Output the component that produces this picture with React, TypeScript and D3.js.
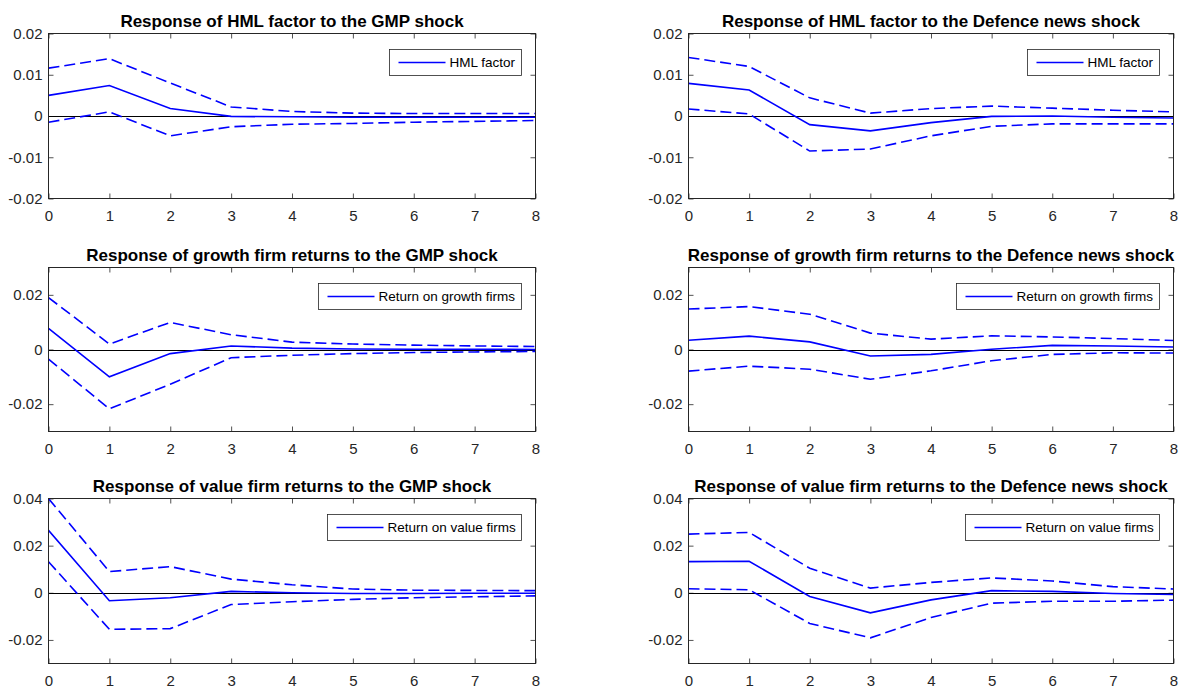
import React, { useEffect, useRef } from 'react';
import * as d3 from 'd3';

// horizons (quarters after the shock)
const horizons = [0, 1, 2, 3, 4, 5, 6, 7, 8];

// HML factor, GMP shock
const hmlGmpIrf = [0.0050, 0.0074, 0.0018, -0.0001, -0.0002, -0.0003, -0.0003, -0.0003, -0.0003];
const hmlGmpUpper = [0.0116, 0.0139, 0.0080, 0.0022, 0.0011, 0.0007, 0.0006, 0.0006, 0.0006];
const hmlGmpLower = [-0.0015, 0.0010, -0.0048, -0.0026, -0.0020, -0.0018, -0.0015, -0.0013, -0.0011];

// HML factor, Defence news shock
const hmlDefIrf = [0.0079, 0.0063, -0.0021, -0.0036, -0.0016, -0.0001, 0.0000, -0.0003, -0.0005];
const hmlDefUpper = [0.0142, 0.0120, 0.0044, 0.0007, 0.0018, 0.0024, 0.0019, 0.0014, 0.0010];
const hmlDefLower = [0.0017, 0.0005, -0.0085, -0.0080, -0.0048, -0.0025, -0.0019, -0.0019, -0.0019];

// growth firms, GMP shock
const growthGmpIrf = [0.0077, -0.0100, -0.0015, 0.0013, 0.0005, 0.0002, 0.0001, 0.0001, 0.0000];
const growthGmpUpper = [0.0190, 0.0020, 0.0099, 0.0054, 0.0027, 0.0020, 0.0016, 0.0013, 0.0011];
const growthGmpLower = [-0.0035, -0.0217, -0.0127, -0.0030, -0.0021, -0.0015, -0.0011, -0.0009, -0.0007];

// growth firms, Defence news shock
const growthDefIrf = [0.0034, 0.0049, 0.0028, -0.0024, -0.0018, 0.0001, 0.0015, 0.0013, 0.0009];
const growthDefUpper = [0.0148, 0.0157, 0.0129, 0.0060, 0.0038, 0.0050, 0.0046, 0.0040, 0.0033];
const growthDefLower = [-0.0079, -0.0061, -0.0072, -0.0109, -0.0078, -0.0041, -0.0018, -0.0012, -0.0013];

// value firms, GMP shock
const valueGmpIrf = [0.0265, -0.0034, -0.0021, 0.0006, 0.0000, -0.0003, -0.0003, -0.0002, -0.0002];
const valueGmpUpper = [0.0400, 0.0090, 0.0111, 0.0058, 0.0034, 0.0016, 0.0011, 0.0010, 0.0009];
const valueGmpLower = [0.0132, -0.0155, -0.0152, -0.0050, -0.0038, -0.0028, -0.0021, -0.0017, -0.0013];

// value firms, Defence news shock
const valueDefIrf = [0.0132, 0.0134, -0.0016, -0.0085, -0.0030, 0.0009, 0.0006, -0.0003, -0.0007];
const valueDefUpper = [0.0249, 0.0256, 0.0104, 0.0020, 0.0044, 0.0063, 0.0050, 0.0026, 0.0016];
const valueDefLower = [0.0017, 0.0013, -0.0130, -0.0191, -0.0105, -0.0044, -0.0036, -0.0036, -0.0031];

const titles = [
    'Response of HML factor to the GMP shock',
    'Response of HML factor to the Defence news shock',
    'Response of growth firm returns to the GMP shock',
    'Response of growth firm returns to the Defence news shock',
    'Response of value firm returns to the GMP shock',
    'Response of value firm returns to the Defence news shock',
];
const legendLabels = ['HML factor', 'Return on growth firms', 'Return on value firms'];

const rowDomains = [[-0.02, 0.02], [-0.03, 0.03], [-0.03, 0.04]];
const rowTicks = [[-0.02, -0.01, 0, 0.01, 0.02], [-0.02, 0, 0.02], [-0.02, 0, 0.02, 0.04]];

const panels = [
    { irf: hmlGmpIrf, upper: hmlGmpUpper, lower: hmlGmpLower },
    { irf: hmlDefIrf, upper: hmlDefUpper, lower: hmlDefLower },
    { irf: growthGmpIrf, upper: growthGmpUpper, lower: growthGmpLower },
    { irf: growthDefIrf, upper: growthDefUpper, lower: growthDefLower },
    { irf: valueGmpIrf, upper: valueGmpUpper, lower: valueGmpLower },
    { irf: valueDefIrf, upper: valueDefUpper, lower: valueDefLower },
];

// plot areas
const columns = [{ left: 48.5, right: 535.5 }, { left: 688.5, right: 1173.5 }];
const rows = [{ top: 33.5, bottom: 198.5 }, { top: 267.5, bottom: 431.5 }, { top: 498.5, bottom: 663.5 }];

const FONT = '"Liberation Sans", Arial, Helvetica, sans-serif';
const BLUE = '#0000ff';
const AXIS = '#262626';

const App = () => {
    const svgRef = useRef<SVGSVGElement>(null);

    useEffect(() => {
        const svg = d3.select(svgRef.current);
        svg.selectAll('*').remove();

        panels.forEach((p, i) => {
            const col = i % 2;
            const row = Math.floor(i / 2);
            const { left, right } = columns[col];
            const { top, bottom } = rows[row];

            const x = d3.scaleLinear().domain([0, 8]).range([left, right]);
            const y = d3.scaleLinear().domain(rowDomains[row]).range([bottom, top]);

            const g = svg.append('g');

            const clipId = `clip-${i}`;
            g.append('clipPath').attr('id', clipId)
                .append('rect')
                .attr('x', left).attr('y', top)
                .attr('width', right - left).attr('height', bottom - top);

            // axes with inward ticks on all four sides
            const styleAxis = (sel) => {
                sel.attr('color', AXIS).attr('font-size', 15).attr('font-family', FONT);
                sel.select('.domain').remove();
                sel.selectAll('line').attr('stroke-width', 0.8);
            };

            g.append('g').attr('transform', `translate(${left},0)`)
                .call(d3.axisLeft(y).tickValues(rowTicks[row]).tickSize(-5).tickPadding(6)
                    .tickFormat(d => (d === 0 ? '0' : String(d))))
                .call(styleAxis);
            g.append('g').attr('transform', `translate(${right},0)`)
                .call(d3.axisRight(y).tickValues(rowTicks[row]).tickSize(-5).tickFormat(() => ''))
                .call(styleAxis);
            g.append('g').attr('transform', `translate(0,${bottom})`)
                .call(d3.axisBottom(x).tickValues(horizons).tickSize(-5).tickPadding(11.5)
                    .tickFormat(d3.format('d')))
                .call(styleAxis);
            g.append('g').attr('transform', `translate(0,${top})`)
                .call(d3.axisTop(x).tickValues(horizons).tickSize(-5).tickFormat(() => ''))
                .call(styleAxis);

            const plot = g.append('g').attr('clip-path', `url(#${clipId})`);

            // zero line
            plot.append('line')
                .attr('x1', x(0)).attr('x2', x(8))
                .attr('y1', Math.round(y(0)) + 0.5).attr('y2', Math.round(y(0)) + 0.5)
                .attr('stroke', '#000').attr('stroke-width', 1);

            const line = d3.line<number>()
                .x((_, j) => x(horizons[j]))
                .y(d => y(d));

            [p.upper, p.lower].forEach(band => {
                plot.append('path').datum(band)
                    .attr('d', line)
                    .attr('fill', 'none')
                    .attr('stroke', BLUE)
                    .attr('stroke-width', 1.6)
                    .attr('stroke-dasharray', '11,5');
            });
            plot.append('path').datum(p.irf)
                .attr('d', line)
                .attr('fill', 'none')
                .attr('stroke', BLUE)
                .attr('stroke-width', 1.6);

            // box
            g.append('rect')
                .attr('x', left).attr('y', top)
                .attr('width', right - left).attr('height', bottom - top)
                .attr('fill', 'none').attr('stroke', AXIS).attr('stroke-width', 1);

            // title
            g.append('text')
                .attr('x', (left + right) / 2).attr('y', top - 7)
                .attr('text-anchor', 'middle')
                .attr('font-family', FONT).attr('font-size', 17).attr('font-weight', 'bold')
                .attr('fill', '#000')
                .text(titles[i]);

            // legend
            const lg = g.append('g');
            const box = lg.append('rect');
            const txt = lg.append('text')
                .attr('font-family', FONT).attr('font-size', 13.5).attr('fill', '#000')
                .text(legendLabels[row]);
            const tw = (txt.node() as SVGTextElement).getComputedTextLength();
            const boxW = Math.round(tw + 66);
            const boxH = 26;
            const bx = right - 14 - boxW;
            const by = top + 16;
            box.attr('x', bx).attr('y', by).attr('width', boxW).attr('height', boxH)
                .attr('fill', '#fff').attr('stroke', AXIS).attr('stroke-width', 0.8);
            lg.append('line')
                .attr('x1', bx + 9).attr('x2', bx + 56)
                .attr('y1', by + boxH / 2).attr('y2', by + boxH / 2)
                .attr('stroke', BLUE).attr('stroke-width', 1.6);
            txt.attr('x', bx + 60).attr('y', by + boxH / 2).attr('dy', '0.35em');
        });
    }, []);

    return (
        <div style={{ position: 'absolute', left: 0, top: 0 }}>
            <svg ref={svgRef} width={1179} height={688} style={{ display: 'block', background: '#fff' }} />
        </div>
    );
};

export default App;
